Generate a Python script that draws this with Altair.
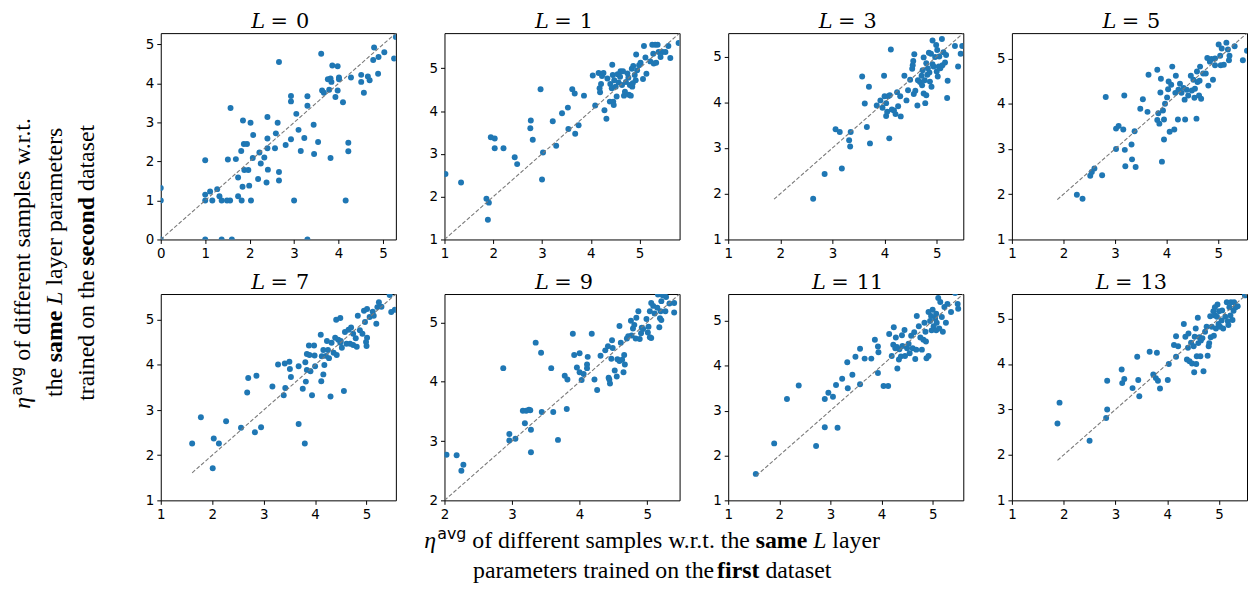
import altair as alt
import pandas as pd

# ---------------- data ----------------
LAYERS = [0, 1, 3, 5, 7, 9, 11, 13]
AX_LO = [0, 1, 1, 1, 1, 2, 1, 1]
AX_HI = [5.29, 5.82, 5.51, 5.56, 5.57, 5.48, 5.6, 5.54]
DIAG_LO = [0, 1.0, 1.88, 1.88, 1.61, 2.0, 1.55, 1.88]
DIAG_HI = [5.29, 5.82, 5.51, 5.56, 5.57, 5.48, 5.6, 5.54]
TICKS = [[0, 1, 2, 3, 4, 5], [1, 2, 3, 4, 5], [1, 2, 3, 4, 5], [1, 2, 3, 4, 5],
         [1, 2, 3, 4, 5], [2, 3, 4, 5], [1, 2, 3, 4, 5], [1, 2, 3, 4, 5]]

X_L0 = [0, 0, 0, 1, 1.37, 1.6, 3.3, 1, 1, 1,
        1.11, 1.16, 1.27, 1.32, 1.37, 1.49, 1.56, 1.51, 1.57, 1.69,
        1.74, 1.74, 1.81, 1.82, 1.84, 1.85, 1.87, 1.88, 1.94, 1.97,
        1.99, 2.02, 2.03, 2.07, 2.08, 2.19, 2.22, 2.25, 2.33, 2.38,
        2.4, 2.4, 2.4, 2.41, 2.57, 2.59, 2.63, 2.66, 2.66, 2.66,
        2.81, 2.93, 2.93, 2.93, 3.0, 3.05, 3.1, 3.15, 3.23, 3.3,
        3.3, 3.44, 3.45, 3.54, 3.61, 3.63, 3.67, 3.79, 3.76, 3.82,
        3.82, 3.84, 3.86, 3.93, 3.98, 3.98, 4.01, 4.01, 4.1, 4.16,
        4.22, 4.22, 4.28, 4.51, 4.51, 4.57, 4.66, 4.7, 4.78, 4.8,
        4.89, 4.9, 5.03, 5.25, 5.29]
Y_L0 = [1.32, 1.0, 0, 0, 0, 0, 0, 2.03, 1.15, 1.0,
        1.23, 1.0, 1.29, 1.11, 1.0, 1.0, 1.0, 2.05, 3.37, 2.06,
        1.11, 1.59, 2.27, 1.0, 1.35, 3.05, 2.45, 1.78, 2.45, 1.78,
        1.38, 2.99, 1.0, 2.09, 2.68, 1.55, 2.23, 1.95, 2.1, 1.46,
        3.14, 2.59, 2.34, 1.79, 2.34, 2.72, 2.99, 4.55, 1.73, 1.51,
        2.42, 3.68, 3.54, 2.57, 1.0, 3.22, 2.81, 2.27, 2.6, 3.67,
        3.43, 2.94, 2.19, 2.5, 4.76, 3.82, 3.76, 3.84, 4.11, 4.13,
        2.09, 4.04, 4.46, 3.65, 4.44, 3.82, 4.15, 4.11, 3.52, 1.0,
        2.48, 2.26, 4.15, 4.22, 4.04, 3.76, 4.18, 4.08, 4.6, 4.92,
        4.25, 4.68, 4.8, 4.64, 5.19]

X_L1 = [1.02, 1.34, 1.86, 1.91, 1.89, 1.95, 2.03, 2.03, 2.21, 2.44,
        2.49, 2.76, 2.77, 2.81, 2.97, 3.0, 3.02, 3.22, 3.29, 3.41,
        3.53, 3.54, 3.62, 3.67, 3.68, 3.75, 3.86, 4.04, 4.09, 4.16,
        4.18, 4.19, 4.21, 4.23, 4.26, 4.28, 4.32, 4.34, 4.39, 4.4,
        4.43, 4.44, 4.45, 4.46, 4.47, 4.48, 4.51, 4.53, 4.55, 4.57,
        4.6, 4.61, 4.64, 4.66, 4.68, 4.7, 4.72, 4.75, 4.77, 4.78,
        4.8, 4.82, 4.84, 4.85, 4.86, 4.87, 4.9, 4.92, 4.93, 4.95,
        4.99, 5.02, 5.07, 5.09, 5.12, 5.14, 5.22, 5.26, 5.28, 5.29,
        5.32, 5.34, 5.37, 5.39, 5.43, 5.47, 5.59, 5.63, 5.8, 5.53]
Y_L1 = [2.53, 2.33, 1.95, 1.86, 1.46, 3.39, 3.36, 3.13, 3.13, 2.92,
        2.76, 3.6, 3.78, 3.33, 4.51, 2.4, 3.03, 3.76, 3.19, 3.95,
        4.08, 3.58, 4.51, 4.41, 3.47, 3.67, 4.36, 4.83, 4.13, 4.89,
        4.53, 4.44, 4.63, 4.82, 4.89, 4.02, 3.82, 4.76, 4.22, 4.63,
        4.53, 5.08, 4.84, 4.22, 4.14, 4.72, 4.57, 4.34, 4.86, 4.67,
        4.8, 4.93, 4.61, 4.93, 4.36, 4.45, 4.68, 4.88, 4.78, 4.38,
        4.61, 4.36, 4.99, 4.57, 4.65, 5.05, 4.84, 4.72, 5.32, 4.95,
        5.07, 5.13, 4.75, 5.52, 5.25, 4.87, 5.16, 5.55, 5.34, 5.11,
        5.55, 5.13, 5.55, 5.38, 5.26, 5.38, 5.52, 5.24, 5.59, 5.38]

X_L3 = [2.63, 2.85, 3.18, 3.06, 3.14, 3.35, 3.32, 3.34, 3.57, 3.62,
        3.66, 3.7, 3.72, 3.85, 3.92, 3.96, 3.99, 4.0, 4.03, 4.03,
        4.05, 4.07, 4.09, 4.1, 4.12, 4.14, 4.18, 4.21, 4.24, 4.26,
        4.3, 4.31, 4.38, 4.42, 4.45, 4.49, 4.53, 4.54, 4.55, 4.56,
        4.57, 4.59, 4.63, 4.64, 4.68, 4.71, 4.72, 4.73, 4.75, 4.75,
        4.77, 4.78, 4.8, 4.8, 4.82, 4.83, 4.85, 4.86, 4.87, 4.89,
        4.9, 4.92, 4.92, 4.94, 4.97, 4.99, 5.0, 5.01, 5.02, 5.04,
        5.05, 5.07, 5.1, 5.11, 5.13, 5.16, 5.18, 5.2, 5.21, 5.35,
        5.41, 5.46, 5.49]
Y_L3 = [1.89, 2.43, 2.55, 3.41, 3.35, 3.35, 3.17, 3.03, 4.56, 3.97,
        3.46, 4.34, 3.1, 3.93, 4.04, 3.88, 4.58, 4.13, 3.98, 3.7,
        3.79, 4.13, 3.21, 4.15, 5.15, 3.84, 3.82, 3.74, 4.22, 3.91,
        4.13, 3.69, 4.58, 4.04, 4.26, 4.49, 4.73, 4.81, 4.9, 4.18,
        5.05, 4.25, 3.93, 4.48, 4.44, 4.58, 4.37, 4.7, 4.98, 4.19,
        4.48, 3.98, 4.85, 4.15, 4.6, 4.74, 5.08, 4.65, 4.45, 5.06,
        4.34, 4.83, 5.35, 4.78, 4.99, 5.25, 4.67, 5.14, 4.56, 4.78,
        5.0, 4.74, 5.38, 4.81, 5.09, 4.87, 5.03, 4.09, 4.47, 5.23,
        4.78, 5.06, 5.23]

X_L5 = [2.26, 2.37, 2.52, 2.55, 2.6, 2.75, 2.82, 3.02, 3.02, 3.07,
        3.16, 3.18, 3.19, 3.2, 3.32, 3.33, 3.38, 3.4, 3.49, 3.54,
        3.63, 3.65, 3.82, 3.82, 3.84, 3.86, 3.88, 3.89, 3.91, 3.93,
        3.95, 3.95, 3.97, 4.01, 4.03, 4.04, 4.06, 4.09, 4.11, 4.15,
        4.17, 4.18, 4.22, 4.23, 4.26, 4.29, 4.33, 4.35, 4.36, 4.39,
        4.42, 4.47, 4.49, 4.52, 4.54, 4.55, 4.58, 4.59, 4.6, 4.63,
        4.64, 4.65, 4.67, 4.71, 4.76, 4.79, 4.81, 4.87, 4.9, 4.94,
        5.01, 5.04, 5.05, 5.07, 5.11, 5.16, 5.19, 5.21, 5.22, 5.32,
        5.48, 5.56, 4.84, 4.94]
Y_L5 = [1.99, 1.9, 2.41, 2.49, 2.57, 2.42, 4.15, 3.0, 3.45, 3.51,
        3.43, 4.18, 2.98, 2.62, 3.1, 2.77, 3.39, 2.6, 3.89, 4.1,
        3.82, 4.64, 4.75, 3.64, 3.79, 3.56, 4.25, 4.55, 2.72, 3.85,
        3.21, 3.65, 4.0, 4.14, 4.32, 4.49, 3.38, 4.42, 4.82, 3.43,
        4.24, 4.62, 3.65, 4.31, 4.44, 4.24, 4.35, 4.09, 3.65, 4.31,
        4.18, 4.62, 4.29, 4.53, 4.13, 4.33, 3.67, 4.71, 4.48, 4.18,
        4.51, 4.82, 4.11, 4.67, 4.67, 5.01, 4.4, 4.99, 4.53, 4.85,
        5.31, 5.06, 4.85, 5.22, 4.86, 5.35, 5.2, 4.96, 5.06, 5.27,
        4.96, 5.17, 4.93, 5.0]

X_L7 = [1.61, 1.78, 2.01, 2.03, 2.13, 2.27, 2.56, 2.68, 2.7, 2.83,
        2.86, 2.95, 3.17, 3.28, 3.39, 3.41, 3.42, 3.5, 3.51, 3.53,
        3.68, 3.68, 3.76, 3.8, 3.81, 3.82, 3.84, 3.84, 3.88, 3.89,
        3.91, 3.94, 3.98, 3.99, 4.0, 4.11, 4.12, 4.13, 4.16, 4.16,
        4.18, 4.21, 4.23, 4.25, 4.27, 4.3, 4.32, 4.36, 4.39, 4.41,
        4.42, 4.45, 4.49, 4.5, 4.52, 4.56, 4.58, 4.61, 4.65, 4.68,
        4.7, 4.74, 4.79, 4.81, 4.83, 4.87, 4.92, 4.95, 4.97, 4.99,
        5.0, 5.01, 5.01, 5.06, 5.12, 5.14, 5.19, 5.21, 5.24, 5.29,
        5.45, 5.48, 5.55, 4.49, 4.74]
Y_L7 = [2.26, 2.84, 1.71, 2.37, 2.26, 2.75, 2.61, 3.39, 3.71, 2.51,
        3.76, 2.62, 3.52, 4.01, 3.33, 4.03, 3.49, 4.07, 3.91, 3.73,
        2.69, 3.97, 3.47, 2.26, 4.06, 3.63, 4.24, 3.89, 4.43, 4.22,
        3.86, 3.33, 4.43, 4.21, 3.97, 4.67, 3.64, 4.19, 3.79, 4.33,
        4.0, 4.2, 4.53, 4.33, 4.15, 3.3, 4.49, 4.27, 4.6, 5.0,
        4.22, 4.56, 5.04, 4.53, 4.38, 3.42, 4.73, 4.47, 4.78, 4.47,
        4.83, 4.44, 4.59, 4.4, 5.09, 4.77, 4.69, 5.2, 4.95, 4.51,
        4.42, 4.6, 5.24, 5.06, 5.18, 5.09, 4.91, 5.28, 5.39, 5.29,
        5.55, 5.17, 5.22, 4.49, 4.69]

X_L9 = [2.03, 2.18, 2.28, 2.25, 2.87, 2.96, 2.96, 3.05, 3.16, 3.19,
        3.21, 3.25, 3.28, 3.28, 3.27, 3.35, 3.43, 3.44, 3.58, 3.61,
        3.68, 3.78, 3.82, 3.81, 3.9, 3.92, 3.96, 4.0, 4.0, 4.03,
        4.06, 4.11, 4.11, 4.12, 4.18, 4.22, 4.26, 4.31, 4.38, 4.42,
        4.43, 4.44, 4.45, 4.47, 4.48, 4.49, 4.52, 4.55, 4.56, 4.59,
        4.59, 4.61, 4.63, 4.65, 4.66, 4.67, 4.7, 4.72, 4.76, 4.77,
        4.79, 4.81, 4.83, 4.84, 4.87, 4.89, 4.91, 4.92, 4.94, 4.99,
        5.01, 5.02, 5.04, 5.06, 5.04, 5.06, 5.09, 5.11, 5.15, 5.16,
        5.18, 5.19, 5.2, 5.21, 5.23, 5.25, 5.27, 5.28, 5.33, 5.4,
        5.4, 5.21]
Y_L9 = [2.77, 2.76, 2.6, 2.5, 4.23, 3.01, 3.12, 3.04, 3.51, 3.3,
        3.51, 3.53, 2.81, 3.19, 3.52, 4.66, 4.49, 3.49, 4.23, 3.49,
        3.02, 4.1, 4.04, 3.54, 4.81, 4.45, 4.24, 4.48, 4.16, 4.03,
        4.13, 4.29, 4.23, 4.42, 4.81, 4.04, 3.86, 4.44, 4.53, 4.6,
        4.07, 4.04, 3.97, 4.39, 4.7, 4.57, 4.19, 4.09, 4.38, 4.94,
        4.35, 4.66, 4.37, 4.16, 4.45, 4.29, 4.73, 4.77, 5.03, 4.78,
        4.9, 4.96, 4.73, 5.08, 5.19, 4.72, 4.82, 4.91, 4.89, 5.06,
        4.83, 4.93, 4.75, 4.74, 5.19, 5.33, 5.28, 5.15, 5.25, 5.47,
        4.92, 5.07, 5.19, 5.36, 5.46, 5.48, 5.19, 5.43, 5.32, 5.33,
        5.17, 5.04]

X_L11 = [1.54, 1.9, 2.15, 2.38, 2.72, 2.89, 2.89, 2.96, 3.05, 3.11,
         3.14, 3.23, 3.33, 3.34, 3.43, 3.49, 3.58, 3.58, 3.67, 3.8,
         3.87, 3.93, 3.94, 3.93, 4.04, 4.13, 4.15, 4.2, 4.23, 4.24,
         4.27, 4.28, 4.3, 4.31, 4.34, 4.35, 4.38, 4.4, 4.41, 4.45,
         4.46, 4.5, 4.53, 4.55, 4.58, 4.61, 4.64, 4.66, 4.68, 4.69,
         4.73, 4.76, 4.79, 4.82, 4.84, 4.86, 4.87, 4.88, 4.92, 4.92,
         4.95, 4.97, 4.98, 5.0, 5.02, 5.05, 5.07, 5.08, 5.11, 5.13,
         5.15, 5.18, 5.2, 5.23, 5.26, 5.29, 5.36, 5.44, 5.49, 5.5,
         5.07]
Y_L11 = [1.59, 2.27, 3.26, 3.56, 2.21, 2.63, 3.26, 3.4, 3.31, 3.57,
         2.62, 3.71, 4.08, 3.5, 3.8, 4.2, 4.38, 3.59, 4.16, 4.16,
         4.58, 4.43, 4.3, 3.84, 3.55, 3.55, 4.71, 4.22, 4.47, 4.86,
         4.39, 4.63, 4.42, 3.94, 4.14, 4.37, 4.21, 4.68, 4.44, 4.8,
         4.22, 4.39, 4.49, 4.28, 4.67, 4.39, 4.75, 4.15, 4.36, 5.11,
         4.88, 4.63, 4.36, 4.58, 4.96, 4.76, 4.54, 4.17, 5.2, 4.22,
         5.0, 5.11, 4.79, 5.25, 4.88, 5.05, 4.79, 4.96, 5.51, 4.83,
         5.42, 5.09, 4.76, 5.31, 4.96, 5.38, 5.2, 5.62, 5.38, 5.27,
         5.16]

X_L13 = [1.88, 1.92, 2.5, 2.82, 2.84, 2.84, 3.12, 3.13, 3.17, 3.33,
         3.42, 3.44, 3.46, 3.66, 3.73, 3.78, 3.8, 3.82, 3.86, 4.01,
         4.03, 4.13, 4.17, 4.17, 4.21, 4.32, 4.35, 4.38, 4.4, 4.41,
         4.43, 4.46, 4.48, 4.51, 4.52, 4.53, 4.55, 4.56, 4.57, 4.59,
         4.6, 4.62, 4.64, 4.65, 4.68, 4.7, 4.73, 4.76, 4.78, 4.8,
         4.81, 4.83, 4.84, 4.86, 4.89, 4.9, 4.92, 4.94, 4.96, 4.97,
         4.99, 5.0, 5.02, 5.05, 5.06, 5.08, 5.12, 5.15, 5.17, 5.18,
         5.2, 5.22, 5.23, 5.26, 5.28, 5.29, 5.32, 5.36, 5.5, 4.92]
Y_L13 = [2.69, 3.15, 2.31, 2.81, 3.0, 3.63, 3.88, 3.58, 3.67, 3.47,
         4.16, 3.65, 3.29, 4.27, 3.77, 3.69, 4.25, 3.63, 3.46, 3.65,
         4.0, 4.42, 4.61, 4.16, 4.39, 4.88, 4.6, 4.1, 4.36, 4.67,
         4.06, 4.47, 4.01, 4.39, 3.82, 4.6, 4.78, 4.0, 4.17, 5.02,
         4.46, 4.59, 4.17, 4.52, 4.57, 3.84, 4.71, 4.82, 4.18, 4.39,
         4.46, 5.05, 4.59, 4.82, 5.16, 4.62, 5.07, 4.78, 5.04, 5.31,
         4.88, 5.16, 4.82, 4.96, 5.18, 4.78, 5.04, 5.36, 4.94, 4.86,
         5.25, 5.07, 5.36, 4.97, 5.17, 5.36, 5.25, 5.27, 5.51, 5.25]

XS = [X_L0, X_L1, X_L3, X_L5, X_L7, X_L9, X_L11, X_L13]
YS = [Y_L0, Y_L1, Y_L3, Y_L5, Y_L7, Y_L9, Y_L11, Y_L13]

# ---------------- text of the shared axis titles ----------------
BOTTOM_LINES = [
    [("η", "eta", 0), ("avg", "sup", 1), ("of different samples w.r.t. the", "reg", 6),
     ("same", "bold", 6), ("L", "ital", 6), ("layer", "reg", 6)],
    [("parameters trained on the", "reg", 0), ("first", "bold", 6), ("dataset", "reg", 6)],
]
LEFT_LINES = [
    [("η", "eta", 0), ("avg", "sup", 1), ("of different samples w.r.t.", "reg", 6)],
    [("the", "reg", 0), ("same", "bold", 6), ("L", "ital", 6), ("layer parameters", "reg", 6)],
    [("trained on the", "reg", 0), ("second", "bold", 6), ("dataset", "reg", 6)],
]

# ---------------- layout helpers ----------------
SERIF = "Liberation Serif"
W, H = 237, 208
LEFT_W = 101
BLUE = "#1f77b4"

REG = {' ': 250, 'a': 444, 'b': 500, 'c': 444, 'd': 500, 'e': 444, 'f': 333, 'g': 500,
       'h': 500, 'i': 278, 'k': 500, 'l': 278, 'm': 778, 'n': 500, 'o': 500, 'p': 500,
       'r': 333, 's': 389, 't': 278, 'u': 500, 'v': 500, 'w': 722, 'y': 500, '.': 250}
BOLD = {'a': 500, 'c': 444, 'd': 556, 'e': 444, 'f': 333, 'i': 278, 'm': 833, 'n': 556,
        'o': 500, 'r': 444, 's': 389, 't': 333}
ITAL = {'L': 556}
SANS = {'a': 613, 'v': 592, 'g': 635}
FS = 24
SUP_FS = 16
SUP_RAISE = 9
REG_FACTOR = 0.987

STYLES = {
    "reg": dict(font=SERIF, fontSize=FS),
    "bold": dict(font=SERIF, fontSize=FS, fontWeight="bold"),
    "ital": dict(font=SERIF, fontSize=FS, fontStyle="italic"),
    "eta": dict(font=SERIF, fontSize=FS, fontStyle="italic"),
    "sup": dict(font="DejaVu Sans", fontSize=SUP_FS),
}


def seg_width(text, kind):
    if kind == "eta":
        return 12.0
    if kind == "sup":
        return sum(SANS.get(c, 600) for c in text) * SUP_FS / 1000
    if kind == "reg":
        return sum(REG.get(c, 500) for c in text) * FS / 1000 * REG_FACTOR
    table = {"bold": BOLD, "ital": ITAL}[kind]
    return sum(table.get(c, 500) for c in text) * FS / 1000


def layout_line(segs):
    pos, out = 0.0, []
    for text, kind, gap in segs:
        pos += gap
        out.append((text, kind, pos))
        pos += seg_width(text, kind)
    return out, pos


rows = []
# bottom (x) title: horizontal, centred
for line, base_y in zip(BOTTOM_LINES, [519, 549]):
    segs, total = layout_line(line)
    x0 = 645 - total / 2
    for text, kind, off in segs:
        rows.append(dict(text=text, kind=kind, ori="h", x=x0 + off,
                         y=base_y - (SUP_RAISE if kind == "sup" else 0)))
# left (y) title: rotated, centred
for line, base_x in zip(LEFT_LINES, [18, 50, 83]):
    segs, total = layout_line(line)
    y0 = 232 + total / 2
    for text, kind, off in segs:
        rows.append(dict(text=text, kind=kind, ori="v",
                         x=base_x - (SUP_RAISE - 1 if kind == "sup" else 0), y=y0 - off))
text_df = pd.DataFrame(rows)

text_layers = []
for kind, st in STYLES.items():
    for ori in ["h", "v"]:
        sub = text_df[(text_df.kind == kind) & (text_df.ori == ori)]
        if len(sub) == 0:
            continue
        text_layers.append(
            alt.Chart(sub).mark_text(align="left", baseline="alphabetic", color="black",
                                     angle=270 if ori == "v" else 0, **st)
            .encode(x=alt.X("x:Q", scale=None, axis=None),
                    y=alt.Y("y:Q", scale=None, axis=None),
                    text="text:N"))
left = alt.layer(*text_layers).properties(
    width=LEFT_W, height=H, view=alt.ViewBackground(stroke="transparent"))

blank = alt.Chart(alt.Data(values=[{"k": 1}])).mark_point(opacity=0).encode(
    x=alt.value(0), y=alt.value(0)).properties(
    width=LEFT_W, height=H, view=alt.ViewBackground(stroke="transparent"))


def panel(i):
    lo, hi = AX_LO[i], AX_HI[i]
    sc = alt.Scale(domain=[lo, hi], nice=False, zero=False)
    ax = alt.Axis(values=TICKS[i], title=None, format="d")
    df = pd.DataFrame({"x": XS[i], "y": YS[i]})
    pts = alt.Chart(df).mark_circle(size=36, color=BLUE, opacity=1, clip=True).encode(
        x=alt.X("x:Q", scale=sc, axis=ax), y=alt.Y("y:Q", scale=sc, axis=ax))
    ddf = pd.DataFrame({"x": [DIAG_LO[i], DIAG_HI[i]], "y": [DIAG_LO[i], DIAG_HI[i]]})
    diag = alt.Chart(ddf).mark_line(color="#7a7a7a", strokeWidth=1.1, strokeDash=[4, 2],
                                    clip=True).encode(x="x:Q", y="y:Q")
    lab = str(LAYERS[i])
    total = 45 + 13.4 * len(lab)
    s = W / 2 + 2 - total / 2
    one = alt.Data(values=[{"k": 1}])
    tstyle = dict(font="DejaVu Serif", fontSize=21, align="left", baseline="alphabetic",
                  color="black")
    t1 = alt.Chart(one).mark_text(text="L", fontStyle="italic", **tstyle).encode(
        x=alt.value(s), y=alt.value(-5))
    t2 = alt.Chart(one).mark_text(text="=", **tstyle).encode(
        x=alt.value(s + 19.4), y=alt.value(-5))
    t3 = alt.Chart(one).mark_text(text=lab, **tstyle).encode(
        x=alt.value(s + 45), y=alt.value(-5))
    return alt.layer(pts, diag, t1, t2, t3).properties(width=W, height=H)


P = [panel(i) for i in range(8)]

chart = alt.concat(
    left, P[0], P[1], P[2], P[3],
    blank, P[4], P[5], P[6], P[7],
    columns=5, spacing={"row": 55, "column": 49}, bounds="flush",
).properties(
    padding=0
).configure_view(
    stroke="black", strokeWidth=1
).configure_axis(
    grid=False, domain=False, ticks=True, tickColor="black", tickSize=4, tickWidth=1,
    labelFont="DejaVu Sans", labelFontSize=13.5, labelColor="black", labelPadding=3,
    labelFlush=False, labelOverlap=False,
)

chart.save("out.html", embed_options={"renderer": "svg", "actions": False})
